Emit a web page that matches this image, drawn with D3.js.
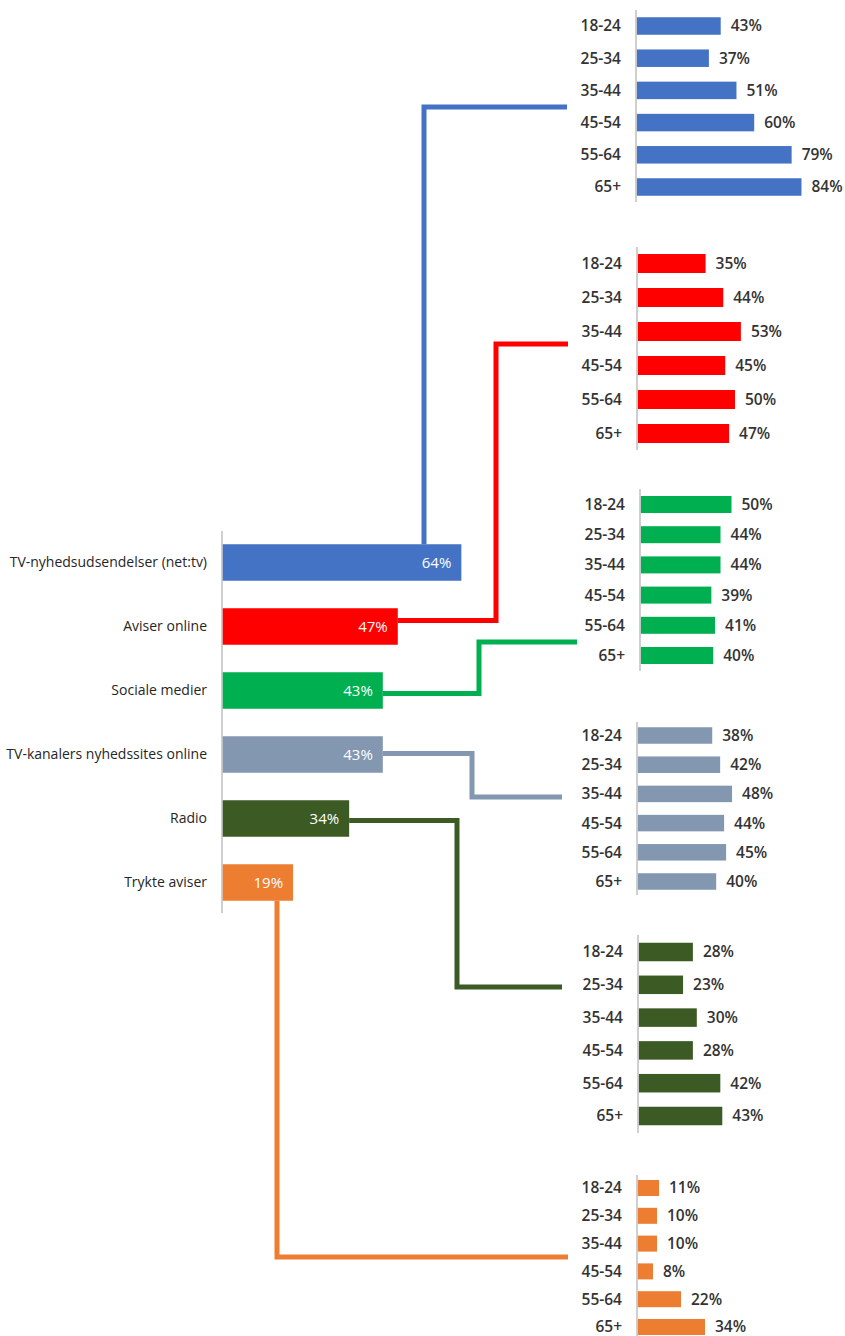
<!DOCTYPE html>
<html>
<head>
<meta charset="utf-8">
<script src="https://cdn.jsdelivr.net/npm/d3@7"></script>
<style>
  html, body { margin: 0; padding: 0; background: #fff; }
  svg { display: block; }
</style>
</head>
<body>
<svg id="chart" width="845" height="1336"></svg>
<script>
// ---------- DATA ----------
const categories = ["TV-nyhedsudsendelser (net:tv)", "Aviser online", "Sociale medier",
                    "TV-kanalers nyhedssites online", "Radio", "Trykte aviser"];
const totals = [64, 47, 43, 43, 34, 19];
const ageGroups = ["18-24", "25-34", "35-44", "45-54", "55-64", "65+"];
const tvNewsByAge      = [43, 37, 51, 60, 79, 84];
const papersOnlineByAge = [35, 44, 53, 45, 50, 47];
const socialByAge      = [50, 44, 44, 39, 41, 40];
const tvSitesByAge     = [38, 42, 48, 44, 45, 40];
const radioByAge       = [28, 23, 30, 28, 42, 43];
const printByAge       = [11, 10, 10, 8, 22, 34];
const colors = ["#4472C4", "#FF0000", "#00B050", "#8497B0", "#3B5A24", "#ED7D31"];

const seriesByAge = [tvNewsByAge, papersOnlineByAge, socialByAge, tvSitesByAge, radioByAge, printByAge];

// ---------- LAYOUT ----------
const svg = d3.select("#chart");
const FONT = "'Open Sans', 'Liberation Sans', sans-serif";
const axisColor = "#BFBFBF";

// Main chart
const main = { axisX: 222, axisTop: 531, axisBottom: 913, c0: 562.5, step: 64, barH: 36.5, pxPerPct: 3.74 };
const mx = d3.scaleLinear().domain([0, 100]).range([main.axisX, main.axisX + 100 * main.pxPerPct]);
const my = d3.scaleBand().domain(categories)
  .range([main.c0 - main.step / 2, main.c0 - main.step / 2 + categories.length * main.step])
  .paddingInner(1 - main.barH / main.step).paddingOuter((1 - main.barH / main.step) / 2);

const gMain = svg.append("g");
gMain.append("line").attr("x1", main.axisX).attr("x2", main.axisX)
  .attr("y1", main.axisTop).attr("y2", main.axisBottom)
  .attr("stroke", axisColor).attr("stroke-width", 1.5);

// Panels (small charts)
const panels = [
  { axisX: 636, axisTop: 10,   axisBottom: 202,  c0: 26,    step: 32.2, barH: 17.5, k: 1.97 },
  { axisX: 637, axisTop: 247,  axisBottom: 450,  c0: 263.5, step: 34,   barH: 19,   k: 1.96 },
  { axisX: 640, axisTop: 489,  axisBottom: 671,  c0: 504.5, step: 30.2, barH: 17,   k: 1.83 },
  { axisX: 637, axisTop: 722,  axisBottom: 895,  c0: 735.5, step: 29.2, barH: 16.5, k: 1.98 },
  { axisX: 638, axisTop: 935,  axisBottom: 1133, c0: 952,   step: 32.8, barH: 18.5, k: 1.96 },
  { axisX: 637, axisTop: 1175, axisBottom: 1340, c0: 1188,  step: 27.8, barH: 16,   k: 2.0 }
];

// Connectors: from main bar to panel
const connectors = [
  { type: "top",    ex: 424, ty: 107,  endX: 567 },
  { type: "side",   dy: -6,  ex: 496, ty: 344,  endX: 568 },
  { type: "side",   dy: 3,   ex: 479, ty: 642,  endX: 577 },
  { type: "side",   dy: -1,  ex: 472, ty: 797,  endX: 562 },
  { type: "side",   dy: 2,   ex: 457, ty: 987,  endX: 562 },
  { type: "bottom", ex: 277, ty: 1257, endX: 568 }
];

const gConn = svg.append("g");
categories.forEach((cat, i) => {
  const c = connectors[i];
  const top = my(cat), bot = my(cat) + my.bandwidth(), mid = my(cat) + my.bandwidth() / 2;
  const endBar = mx(totals[i]);
  let pts;
  if (c.type === "top") pts = [[c.ex, top], [c.ex, c.ty], [c.endX, c.ty]];
  else if (c.type === "bottom") pts = [[c.ex, bot], [c.ex, c.ty], [c.endX, c.ty]];
  else pts = [[endBar, mid + c.dy], [c.ex, mid + c.dy], [c.ex, c.ty], [c.endX, c.ty]];
  gConn.append("path")
    .attr("d", d3.line()(pts))
    .attr("fill", "none").attr("stroke", colors[i]).attr("stroke-width", 5)
    .attr("stroke-linejoin", "miter");
});

// Main bars
gMain.selectAll("rect.main").data(categories).join("rect")
  .attr("x", main.axisX + 0.75)
  .attr("y", d => my(d))
  .attr("width", (d, i) => mx(totals[i]) - main.axisX - 0.75)
  .attr("height", my.bandwidth())
  .attr("fill", (d, i) => colors[i]);

gMain.selectAll("text.cat").data(categories).join("text")
  .attr("x", main.axisX - 15)
  .attr("y", d => my(d) + my.bandwidth() / 2)
  .attr("dy", "0.35em")
  .attr("text-anchor", "end")
  .attr("font-family", FONT).attr("font-size", 14).attr("fill", "#262626")
  .text(d => d);

gMain.selectAll("text.val").data(categories).join("text")
  .attr("x", (d, i) => mx(totals[i]) - 10)
  .attr("y", d => my(d) + my.bandwidth() / 2)
  .attr("dy", "0.35em")
  .attr("text-anchor", "end")
  .attr("font-family", FONT).attr("font-size", 15).attr("fill", "#FFFFFF")
  .text((d, i) => totals[i] + "%");

// Small panels
panels.forEach((p, i) => {
  const g = svg.append("g");
  const vals = seriesByAge[i];
  const x = d3.scaleLinear().domain([0, 100]).range([p.axisX, p.axisX + 100 * p.k]);
  const pad = 1 - p.barH / p.step;
  const y = d3.scaleBand().domain(ageGroups)
    .range([p.c0 - p.step / 2, p.c0 - p.step / 2 + ageGroups.length * p.step])
    .paddingInner(pad).paddingOuter(pad / 2);

  g.selectAll("rect").data(ageGroups).join("rect")
    .attr("x", p.axisX + 0.75)
    .attr("y", d => y(d))
    .attr("width", (d, j) => x(vals[j]) - p.axisX - 0.75)
    .attr("height", y.bandwidth())
    .attr("fill", colors[i]);

  g.append("line").attr("x1", p.axisX).attr("x2", p.axisX)
    .attr("y1", p.axisTop).attr("y2", p.axisBottom)
    .attr("stroke", axisColor).attr("stroke-width", 1.5);

  g.selectAll("text.age").data(ageGroups).join("text")
    .attr("x", p.axisX - 15)
    .attr("y", d => y(d) + y.bandwidth() / 2)
    .attr("dy", "0.35em")
    .attr("text-anchor", "end")
    .attr("font-family", FONT).attr("font-size", 15.5).attr("font-weight", 600).attr("fill", "#333333")
    .text(d => d);

  g.selectAll("text.v").data(ageGroups).join("text")
    .attr("x", (d, j) => x(vals[j]) + 10)
    .attr("y", d => y(d) + y.bandwidth() / 2)
    .attr("dy", "0.35em")
    .attr("text-anchor", "start")
    .attr("font-family", FONT).attr("font-size", 15.5).attr("font-weight", 600).attr("fill", "#333333")
    .text((d, j) => vals[j] + "%");
});
</script>
</body>
</html>
